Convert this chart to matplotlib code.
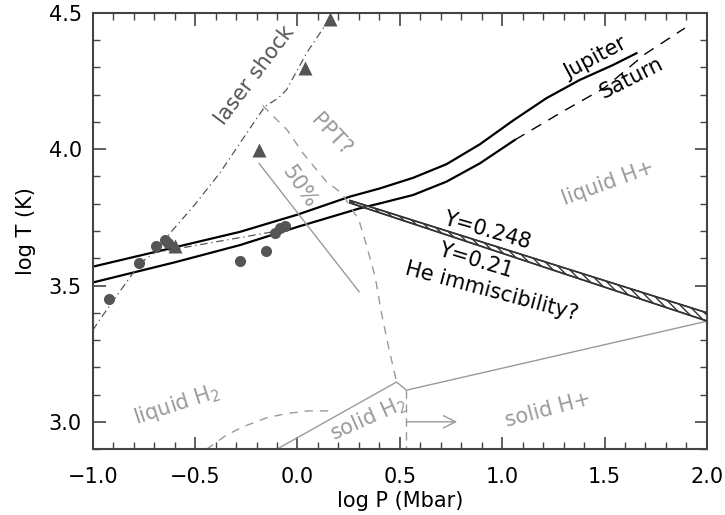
"""Hydrogen phase diagram with Jupiter/Saturn adiabats."""

import numpy as np
import matplotlib
matplotlib.use("Agg")
import matplotlib.pyplot as plt

plt.rcParams["font.family"] = ["DejaVu Sans"]

# --- data (log P in Mbar, log T in K) ---
jup_x = [-1.0, -0.6, -0.28, 0.0, 0.256, 0.402, 0.565, 0.728, 0.891, 1.053, 1.216, 1.379, 1.542, 1.656]
jup_y = [3.569, 3.640, 3.697, 3.760, 3.826, 3.856, 3.895, 3.945, 4.018, 4.105, 4.187, 4.254, 4.309, 4.352]

sat_x = [-1.0, -0.6, -0.282, 0.0, 0.304, 0.402, 0.565, 0.728, 0.891, 1.062]
sat_y = [3.511, 3.585, 3.648, 3.715, 3.783, 3.801, 3.832, 3.881, 3.948, 4.034]
sat_ext_x = [1.062, 1.30, 1.50, 1.70, 1.892]
sat_ext_y = [4.034, 4.140, 4.225, 4.350, 4.444]

# helium immiscibility band (Y=0.248 upper, Y=0.21 lower)
he_x = [0.256, 2.0]
he_top = [3.812, 3.400]
he_bot = [3.803, 3.370]

# laser shock and gas gun data
laser_x = [0.158, 0.044, -0.054, -0.095, -0.16, -0.249, -0.38, -0.51, -0.624, -0.68]
laser_y = [4.480, 4.352, 4.217, 4.187, 4.156, 4.058, 3.912, 3.789, 3.691, 3.630]
gas_x = [-1.0, -0.966, -0.77, -0.70, -0.40, -0.12]
gas_y = [3.336, 3.375, 3.581, 3.620, 3.660, 3.697]

tri_x = [0.158, 0.036, -0.188, -0.60]
tri_y = [4.478, 4.297, 3.997, 3.645]
circ_x = [-0.922, -0.775, -0.689, -0.648, -0.632, -0.282, -0.155, -0.111, -0.086, -0.062]
circ_y = [3.450, 3.581, 3.645, 3.667, 3.655, 3.591, 3.627, 3.693, 3.710, 3.718]

# 50% dissociation line
diss_x = [-0.188, 0.301]
diss_y = [3.948, 3.477]

# PPT (plasma phase transition) boundary
ppt_x = [-0.17, -0.05, 0.026, 0.094, 0.143, 0.216, 0.30, 0.34, 0.38, 0.41, 0.443, 0.484]
ppt_y = [4.160, 4.070, 3.986, 3.924, 3.880, 3.839, 3.740, 3.640, 3.530, 3.400, 3.281, 3.146]

# solid phase boundaries
melt_x = [-0.095, 0.484, 0.532, 2.0]
melt_y = [2.902, 3.146, 3.116, 3.369]
trans_x = [0.532, 0.532]
trans_y = [3.116, 2.9]
solid_dash_x = [-0.445, -0.35, -0.266, -0.15, -0.056, 0.05, 0.17]
solid_dash_y = [2.899, 2.950, 2.982, 3.015, 3.030, 3.040, 3.040]

GRAY = "#9a9a9a"
DARK = "#555555"

fig = plt.figure(figsize=(7.25, 5.15), dpi=100)
ax = fig.add_axes([0.128, 0.128, 0.847, 0.847])

# adiabats
ax.plot(jup_x, jup_y, color="black", lw=1.6)
ax.plot(sat_x, sat_y, color="black", lw=1.6)
ax.plot(sat_ext_x, sat_ext_y, color="black", lw=1.0, dashes=(8, 6))

# He band
ax.fill_between(he_x, he_bot, he_top, facecolor="white", edgecolor="#333333",
                hatch="\\\\\\\\", lw=1.0, zorder=3)
ax.plot(he_x, he_top, color="#333333", lw=1.2, zorder=4)
ax.plot(he_x, he_bot, color="#333333", lw=1.2, zorder=4)

# shock data
ax.plot(laser_x, laser_y, color=DARK, lw=0.9, dashes=(6, 3, 1, 3))
ax.plot(gas_x, gas_y, color=DARK, lw=0.9, dashes=(6, 3, 1, 3))
ax.plot(tri_x, tri_y, "^", color=DARK, ms=10, mec="none")
ax.plot(circ_x, circ_y, "o", color=DARK, ms=8, mec="none")

# gray phase lines
ax.plot(diss_x, diss_y, color=GRAY, lw=1.0)
ax.plot(ppt_x, ppt_y, color=GRAY, lw=1.0, dashes=(6, 5))
ax.plot(melt_x, melt_y, color=GRAY, lw=1.0)
ax.plot(trans_x, trans_y, color=GRAY, lw=1.0, dashes=(6, 4))
ax.plot(solid_dash_x, solid_dash_y, color=GRAY, lw=1.0, dashes=(6, 5))
ax.annotate("", xy=(0.78, 3.0), xytext=(0.535, 3.0),
            arrowprops=dict(arrowstyle="->", color=GRAY, lw=1.0,
                            mutation_scale=22, shrinkA=0, shrinkB=0))

# labels
fs = 15
ax.text(-0.21, 4.27, "laser shock", color=DARK, fontsize=fs, rotation=53,
        ha="center", va="center")
ax.text(0.166, 4.052, "PPT?", color=GRAY, fontsize=fs, rotation=-47,
        ha="center", va="center")
ax.text(0.011, 3.862, "50%", color=GRAY, fontsize=fs, rotation=-56,
        ha="center", va="center")
ax.text(1.457, 4.335, "Jupiter", color="black", fontsize=fs, rotation=28,
        ha="center", va="center")
ax.text(1.633, 4.262, "Saturn", color="black", fontsize=fs, rotation=27,
        ha="center", va="center")
ax.text(1.52, 3.877, "liquid H+", color=GRAY, fontsize=fs, rotation=20,
        ha="center", va="center")
ax.text(0.925, 3.70, "Y=0.248", color="black", fontsize=fs, rotation=-16,
        ha="center", va="center")
ax.text(0.871, 3.593, "Y=0.21", color="black", fontsize=fs, rotation=-17,
        ha="center", va="center")
ax.text(0.948, 3.478, "He immiscibility?", color="black", fontsize=fs, rotation=-15,
        ha="center", va="center")
ax.text(-0.591, 3.061, "liquid H$_2$", color=GRAY, fontsize=fs, rotation=18,
        ha="center", va="center")
ax.text(0.345, 3.012, "solid H$_2$", color=GRAY, fontsize=fs, rotation=24,
        ha="center", va="center")
ax.text(1.224, 3.045, "solid H+", color=GRAY, fontsize=fs, rotation=15,
        ha="center", va="center")

# axes
ax.set_xlim(-1.0, 2.0)
ax.set_ylim(2.9, 4.5)
ax.set_xticks(np.arange(-1.0, 2.01, 0.5))
ax.set_yticks(np.arange(3.0, 4.51, 0.5))
ax.set_xticks(np.arange(-1.0, 2.01, 0.1), minor=True)
ax.set_yticks(np.arange(2.9, 4.51, 0.1), minor=True)
ax.set_xticklabels(["\u22121.0", "\u22120.5", "0.0", "0.5", "1.0", "1.5", "2.0"])
ax.set_yticklabels(["3.0", "3.5", "4.0", "4.5"])
ax.tick_params(which="both", direction="in", top=True, right=True,
               labelsize=15, color="#444444")
ax.tick_params(axis="x", which="both", pad=13)
ax.tick_params(axis="y", which="both", pad=8)
ax.tick_params(which="major", length=9, width=1.2)
ax.tick_params(which="minor", length=5, width=1.0)
for sp in ax.spines.values():
    sp.set_color("#444444")
    sp.set_linewidth(1.5)
ax.set_xlabel("log P (Mbar)", fontsize=15, labelpad=3)
ax.set_ylabel("log T (K)", fontsize=15, labelpad=9)

fig.savefig("out.png", dpi=100)
